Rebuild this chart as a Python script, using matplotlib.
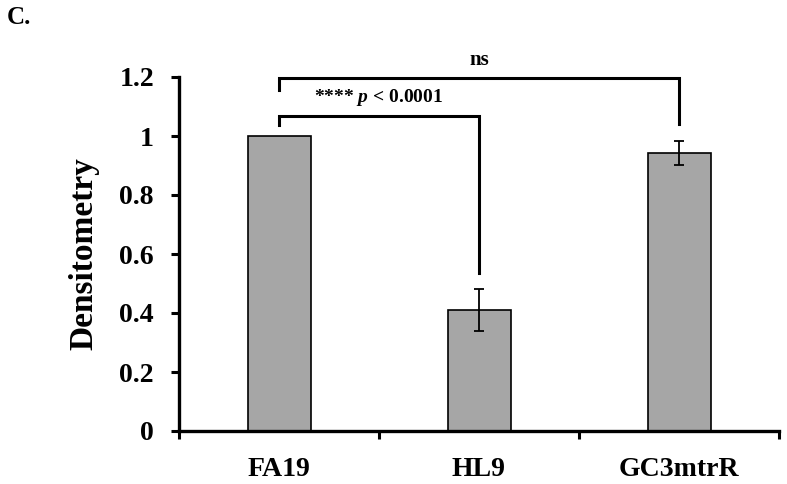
import matplotlib.pyplot as plt
import numpy as np

# data
strains = ["FA19", "HL9", "GC3mtrR"]
densitometry = [1.0, 0.41, 0.943]
errors = [0.0, 0.07, 0.041]
y_ticks = [0, 0.2, 0.4, 0.6, 0.8, 1.0, 1.2]
y_tick_labels = ["0", "0.2", "0.4", "0.6", "0.8", "1", "1.2"]

# significance brackets: (left x, right x, top y, left drop y, right drop y)
brackets = [
    (0, 2, 1.197, 1.156, 1.041),
    (0, 1, 1.068, 1.037, 0.536),
]

SERIF = "Liberation Serif"
plt.rcParams["font.family"] = [SERIF, "DejaVu Serif"]
plt.rcParams["mathtext.fontset"] = "custom"
plt.rcParams["mathtext.bfit"] = f"{SERIF}:italic:bold"
plt.rcParams["mathtext.it"] = f"{SERIF}:italic:bold"

fig = plt.figure(figsize=(7.87, 4.84), dpi=100)
ax = fig.add_axes([179 / 787, 1 - 431 / 484, 600 / 787, 354 / 484])

x = np.arange(len(strains))
ax.bar(x, densitometry, width=0.315, color="#a6a6a6", edgecolor="black", linewidth=1.2, zorder=2)
ax.errorbar(x[1:], densitometry[1:], yerr=errors[1:], fmt="none", ecolor="black",
            elinewidth=1.3, capsize=3.5, capthick=1.3, zorder=3)

ax.set_xlim(-0.5, 2.5)
ax.set_ylim(0, 1.2)

for side in ["top", "right"]:
    ax.spines[side].set_visible(False)
for side in ["left", "bottom"]:
    ax.spines[side].set_linewidth(2.4)

ax.set_yticks(y_ticks)
ax.set_yticklabels(y_tick_labels)
ax.tick_params(axis="y", direction="out", length=6, width=2.2, pad=12, labelsize=20)
for lbl in ax.get_yticklabels():
    lbl.set_fontweight("bold")

ax.set_xticks([-0.5, 0.5, 1.5, 2.5])
ax.set_xticklabels([])
ax.tick_params(axis="x", which="major", direction="out", length=6, width=2.2)
ax.set_xticks(x, minor=True)
ax.set_xticklabels(strains, minor=True, fontsize=20, fontweight="bold")
ax.tick_params(axis="x", which="minor", length=0, pad=19)

ax.set_ylabel("Densitometry", fontsize=24, fontweight="bold")
ax.yaxis.set_label_coords(-0.132, 0.5)

for x0, x1, ytop, yl, yr in brackets:
    ax.plot([x0, x0, x1, x1], [yl, ytop, ytop, yr], color="black", lw=2.2,
            clip_on=False, solid_joinstyle="miter", zorder=4)

ax.text(1.0, 1.258, "ns", ha="center", va="center", fontsize=15, fontweight="bold", clip_on=False)
ax.text(0.5, 1.129, r"**** $\mathit{p}$ < 0.0001", ha="center", va="center",
        fontsize=14, fontweight="bold", clip_on=False)

fig.text(7 / 787, 1 - 18 / 484, "C.", fontsize=18, fontweight="bold", ha="left", va="center")

fig.savefig("out.png", dpi=100)
